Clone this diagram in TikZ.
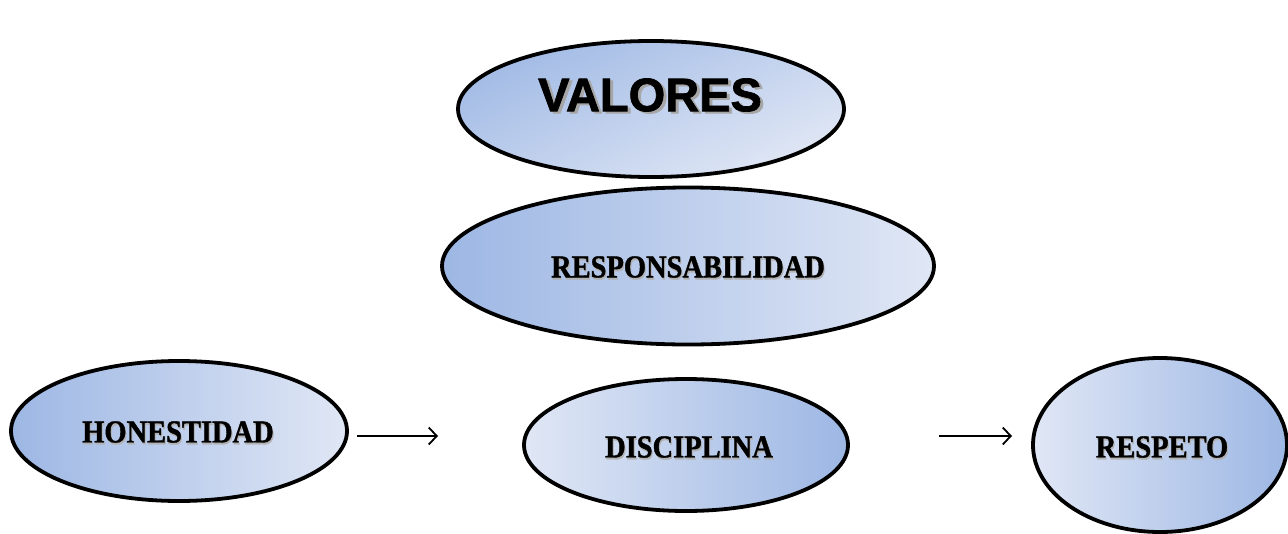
\documentclass[tikz,border=0pt]{standalone}
\usepackage{fontspec}
\setmainfont{Liberation Serif}
\newfontfamily\lblfont[FakeStretch=0.89,FakeBold=1.2]{Liberation Serif Bold}
\newfontfamily\valfont[FakeBold=1.5]{Liberation Sans Bold}
\usetikzlibrary{shapes.geometric,arrows.meta}
\definecolor{bdark}{RGB}{157,183,228}
\definecolor{blight}{RGB}{224,231,245}
\tikzset{
  oval/.style={ellipse, draw=black, line width=3.8pt, inner sep=0pt},
  ltr/.style={left color=bdark, right color=blight},
  rtl/.style={left color=blight, right color=bdark},
  lbl/.style={font=\lblfont\fontsize{32}{33}\selectfont, inner sep=0pt},
  shd/.style={font=\lblfont\fontsize{32}{33}\selectfont, inner sep=0pt, text=black!30},
  vlbl/.style={font=\valfont\fontsize{47}{48}\selectfont, inner sep=0pt},
  conn/.style={line width=1.8pt, -{Straight Barb[length=8pt,width=17pt,line width=1.8pt]}}
}
\begin{document}
\begin{tikzpicture}[x=1pt,y=-1pt]
\useasboundingbox (0,0) rectangle (1288,533);
% ellipses
\node[oval, minimum width=386pt, minimum height=136pt, top color=bdark!95, bottom color=blight, shading angle=25] (val) at (651,109) {};
\node[oval, ltr, minimum width=492pt, minimum height=157pt] (resp) at (688,266) {};
\node[oval, ltr, minimum width=336pt, minimum height=140pt] (hon) at (179,431) {};
\node[oval, rtl, minimum width=324pt, minimum height=132pt] (dis) at (686,445) {};
\node[oval, rtl, minimum width=254pt, minimum height=174pt] (rsp) at (1160,445) {};
% texts
\node[vlbl, text=black!35] at (653,97) {VALORES};
\node[vlbl] (valt) at (650,95) {VALORES};
\node[shd] at (689,269) {RESPONSABILIDAD};
\node[lbl] (respt) at (688,267) {RESPONSABILIDAD};
\node[shd] at (179,434) {HONESTIDAD};
\node[lbl] (hont) at (178,432) {HONESTIDAD};
\node[shd] at (690,449) {DISCIPLINA};
\node[lbl] (dist) at (689,447) {DISCIPLINA};
\node[shd] at (1163,449) {RESPETO};
\node[lbl] (rspt) at (1162,447) {RESPETO};
% arrows
\coordinate (a1s) at (357,436);
\coordinate (a1e) at (438,436);
\coordinate (a2s) at (939,436);
\coordinate (a2e) at (1012,436);
\draw[conn] (a1s) -- (a1e);
\draw[conn] (a2s) -- (a2e);
\end{tikzpicture}
\end{document}
